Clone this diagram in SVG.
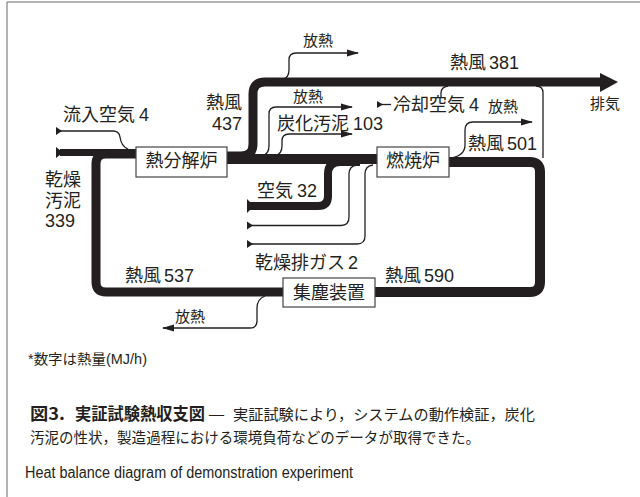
<svg xmlns="http://www.w3.org/2000/svg" width="640" height="497" viewBox="0 0 640 497">
<style>
.t{font-family:"Liberation Sans","Noto Sans CJK JP",sans-serif;fill:#231f20}
.c{font-family:"Noto Sans CJK JP","Noto Sans",sans-serif;fill:#231f20}
.l{font-size:18px}
.s{font-size:15px}
.thick{fill:none;stroke:#231f20;stroke-linejoin:round}
.thin{fill:none;stroke:#231f20;stroke-width:1.3}
.box{fill:#fff;stroke:#444;stroke-width:1.2}
.tail{fill:#231f20}
</style>
<defs>
<marker id="ah" markerUnits="userSpaceOnUse" markerWidth="13" markerHeight="8" refX="11" refY="4" orient="auto">
<path d="M0,0.5 L12,4 L0,7.5 z" fill="#231f20"/>
</marker>
</defs>
<rect width="640" height="497" fill="#fff"/>
<path d="M7,497 V2 H640" fill="none" stroke="#666" stroke-width="1"/>

<g id="connectors">
<path class="thick" stroke-width="7" d="M60,152.5 H136"/>
<path class="thick" stroke-width="9" d="M136,154 H106 Q96,154 96,164 V282 Q96,292 106,292 H283"/>
<path class="thick" stroke-width="10" d="M227,159 H377"/>
<path class="thick" stroke-width="9" d="M227,156 H241 Q253,156 253,144 V94 Q253,82 265,82 H601"/>
<polygon class="tail" points="600,73 618,82 600,92"/>
<path class="thick" stroke-width="10" d="M449,162 H530 Q540,162 540,172 V282 Q540,292 530,292 H375"/>
<path class="thick" stroke-width="8" d="M250,206 H318 Q328,206 328,196 V174 Q328,162 340,162 H360"/>
<polygon class="tail" points="56,127 62,131 56,135"/>
<polygon class="tail" points="56,147 63,152.5 56,158"/>
<polygon class="tail" points="247,199 254,206 247,213"/>
<polygon class="tail" points="247,221.5 253,225.5 247,229.5"/>
<polygon class="tail" points="247,240 253,244 247,248"/>
<polygon class="tail" points="377,101 383,104.5 377,108"/>
<path class="thin" d="M60,131 H113 Q119,131 120,137 Q121,146 128,149"/>
<path class="thin" d="M282,80 Q289,78 289,70 V60 Q289,53 296,53 H358" marker-end="url(#ah)"/>
<path class="thin" d="M262,156 Q269,154 269,146 V114 Q269,107 276,107 H352" marker-end="url(#ah)"/>
<path class="thin" d="M275,156 Q282,154 282,146 V141 Q282,134 289,134 H352" marker-end="url(#ah)"/>
<path class="thin" d="M452,158 Q465,155 465,145 V130 Q465,122 473,122 H532" marker-end="url(#ah)"/>
<path class="thin" d="M536,86 Q543,86 543,93 V158"/>
<path class="thin" d="M380,104.5 H391"/>
<path class="thin" d="M441,97 V93 Q441,87 448,86"/>
<path class="thin" d="M250,225.5 H341 Q349,225.5 349,217 V174 Q349,166 357,165"/>
<path class="thin" d="M250,244 H357 Q365,244 365,236 V174 Q365,166 373,165"/>
<path class="thin" d="M265,296 Q257,299 257,308 V321 Q257,328 250,328 H163" marker-end="url(#ah)"/>
</g>

<g id="pyrolysis">
<rect class="box" x="136" y="147" width="91" height="30"/>
<text class="t l" x="181.5" y="167" text-anchor="middle">熱分解炉</text>
</g>
<g id="combustion">
<rect class="box" x="377" y="147" width="72" height="30"/>
<text class="t l" x="413" y="167" text-anchor="middle">燃焼炉</text>
</g>
<g id="dust">
<rect class="box" x="283" y="278" width="92" height="29"/>
<text class="t l" x="329" y="299" text-anchor="middle">集塵装置</text>
</g>

<g id="labels">
<text class="t s" x="303" y="46">放熱</text>
<text class="t l" x="450" y="69">熱風<tspan dx="3">381</tspan></text>
<text class="t s" x="590" y="109">排気</text>
<text class="t l" x="242" y="109.3" text-anchor="end">熱風</text>
<text class="t l" x="242" y="129.6" text-anchor="end">437</text>
<text class="t l" x="63" y="121">流入空気<tspan dx="4">4</tspan></text>
<text class="t s" x="293" y="102">放熱</text>
<text class="t l" x="277" y="130">炭化汚泥<tspan dx="4">103</tspan></text>
<text class="t l" x="393" y="111">冷却空気<tspan dx="4">4</tspan></text>
<text class="t s" x="488" y="112">放熱</text>
<text class="t l" x="468" y="150">熱風<tspan dx="3">501</tspan></text>
<text class="t l" x="45" y="186">乾燥</text>
<text class="t l" x="45" y="206.5">汚泥</text>
<text class="t l" x="45" y="227">339</text>
<text class="t l" x="257" y="197">空気<tspan dx="4">32</tspan></text>
<text class="t l" x="255" y="269">乾燥排ガス<tspan dx="3">2</tspan></text>
<text class="t l" x="125" y="282">熱風<tspan dx="3">537</tspan></text>
<text class="t l" x="385" y="282">熱風<tspan dx="3">590</tspan></text>
<text class="t s" x="175" y="322">放熱</text>
</g>

<g id="caption">
<text class="t" x="28" y="364" font-size="14" textLength="119" lengthAdjust="spacingAndGlyphs">*数字は熱量(MJ/h)</text>
<text class="c" x="30" y="420" font-size="16.5" font-weight="bold" textLength="35" lengthAdjust="spacingAndGlyphs">図3.</text>
<text class="c" x="75" y="420" font-size="16.5" font-weight="bold" textLength="130" lengthAdjust="spacingAndGlyphs">実証試験熱収支図</text>
<text class="c" x="208" y="420" font-size="15" textLength="17" lengthAdjust="spacingAndGlyphs">—</text>
<text class="c" x="233" y="420" font-size="15" textLength="302" lengthAdjust="spacingAndGlyphs">実証試験により，システムの動作検証，炭化</text>
<text class="c" x="30" y="443" font-size="15" textLength="450" lengthAdjust="spacingAndGlyphs">汚泥の性状，製造過程における環境負荷などのデータが取得できた。</text>
<text x="25" y="478" font-family="'Liberation Sans',Arial,sans-serif" font-size="16" fill="#231f20" textLength="328" lengthAdjust="spacingAndGlyphs">Heat balance diagram of demonstration experiment</text>
</g>
</svg>
